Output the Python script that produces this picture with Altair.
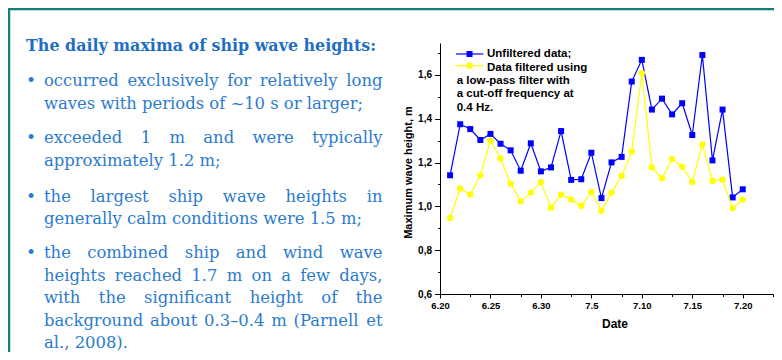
import json
import altair as alt
import pandas as pd

# ---------------- data ----------------
dates = ["6.21", "6.22", "6.23", "6.24", "6.25", "6.26", "6.27", "6.28", "6.29", "6.30",
         "7.1", "7.2", "7.3", "7.4", "7.5", "7.6", "7.7", "7.8", "7.9", "7.10",
         "7.11", "7.12", "7.13", "7.14", "7.15", "7.16", "7.17", "7.18", "7.19", "7.20"]
unfiltered = [1.142, 1.375, 1.353, 1.303, 1.331, 1.286, 1.256, 1.163, 1.288, 1.160,
              1.178, 1.344, 1.121, 1.124, 1.245, 1.038, 1.201, 1.226, 1.570, 1.669,
              1.442, 1.492, 1.420, 1.471, 1.326, 1.691, 1.210, 1.442, 1.041, 1.078]
filtered = [0.947, 1.082, 1.054, 1.142, 1.300, 1.219, 1.104, 1.023, 1.063, 1.111,
            0.994, 1.054, 1.032, 1.002, 1.066, 0.980, 1.063, 1.139, 1.251, 1.608,
            1.178, 1.128, 1.216, 1.181, 1.111, 1.283, 1.116, 1.122, 0.991, 1.031]
x_tick_labels = ["6.20", "6.25", "6.30", "7.5", "7.10", "7.15", "7.20"]
x_tick_values = [0, 3, 5, 8, 10, 13, 15, 18, 20, 23, 25, 28, 30, 33]
y_tick_values = [0.6, 0.7, 0.8, 0.9, 1.0, 1.1, 1.2, 1.3, 1.4, 1.5, 1.6, 1.7]
series_names = ["Unfiltered data;", "Data filtered using"]
legend_note = ["a low-pass filter with", "a cut-off frequency at", "0.4 Hz."]
x_title = "Date"
y_title = "Maximum wave height, m"

slide_title = "The daily maxima of ship wave heights:"
bullets = [
    ["occurred exclusively for relatively long",
     "waves with periods of ~10 s or larger;"],
    ["exceeded 1 m and were typically",
     "approximately 1.2 m;"],
    ["the largest ship wave heights in",
     "generally calm conditions were 1.5 m;"],
    ["the combined ship and wind wave",
     "heights reached 1.7 m on a few days,",
     "with the significant height of the",
     "background about 0.3\u20130.4 m (Parnell et",
     "al., 2008)."],
]

# ---------------- layout ----------------
W, H = 333, 251
X_MAX = 33
Y_DOM = [0.6, 1.746]
BLUE = "#0000ff"
YELLOW = "#ffff00"
TEAL = "#108078"
TITLE_BLUE = "#1f6ec4"
BODY_BLUE = "#2b7bd0"
SERIF = "DejaVu Serif"
SANS = "Liberation Sans"
BODY_SIZE = 16.4
LINE_H = 22.5
TEXT_LEFT = -396
TEXT_RIGHT = -57.5
para_first_y = [43, 100, 158.7, 215]

one = pd.DataFrame({"k": [0]})

# approximate DejaVu Serif advance widths (em)
CW = {" ": .318, "a": .596, "b": .640, "c": .560, "d": .640, "e": .592, "f": .371,
      "g": .640, "h": .644, "i": .320, "j": .310, "k": .606, "l": .320, "m": .948,
      "n": .644, "o": .602, "p": .640, "q": .640, "r": .478, "s": .513, "t": .402,
      "u": .644, "v": .565, "w": .856, "x": .565, "y": .565, "z": .527, ".": .318,
      ",": .318, ";": .337, "(": .390, ")": .390, "~": .838, "\u2013": .5, "P": .68}
for d in "0123456789":
    CW[d] = .636


def tw(s):
    return sum(CW.get(ch, 0.6) for ch in s) * BODY_SIZE


def txt(text, x, y, **kw):
    return alt.Chart(one).mark_text(text=text, **kw).encode(
        x=alt.value(x), y=alt.value(y))


layers = []

# slide frame
layers.append(alt.Chart(one).mark_rule(color=TEAL, strokeWidth=2.5).encode(
    x=alt.value(-432), x2=alt.value(W + 1), y=alt.value(-34)))
layers.append(alt.Chart(one).mark_rule(color=TEAL, strokeWidth=2.5).encode(
    x=alt.value(-431), y=alt.value(-35), y2=alt.value(H + 58)))

# slide title
layers.append(txt(slide_title, -414, 7.7, align="left", baseline="alphabetic",
                  font=SERIF, fontSize=15.9, fontWeight="bold", color=TITLE_BLUE))

# bullets
body_kw = dict(baseline="alphabetic", font=SERIF, fontSize=BODY_SIZE, color=BODY_BLUE)
for p, lines in enumerate(bullets):
    y0 = para_first_y[p]
    layers.append(txt("\u2022", -409, y0, align="center", baseline="alphabetic",
                      font=SERIF, fontSize=17, color=BODY_BLUE))
    for i, line in enumerate(lines):
        y = y0 + i * LINE_H
        words = line.split(" ")
        last = i == len(lines) - 1
        if last or len(words) < 2:
            layers.append(txt(line, TEXT_LEFT, y, align="left", **body_kw))
            continue
        natural = sum(tw(w) for w in words)
        gap = (TEXT_RIGHT - TEXT_LEFT - natural) / (len(words) - 1)
        x = TEXT_LEFT
        for j, w in enumerate(words):
            if j == len(words) - 1:
                layers.append(txt(w, TEXT_RIGHT, y, align="right", **body_kw))
            else:
                layers.append(txt(w, x, y, align="left", **body_kw))
            x += tw(w) + gap

# ---------------- chart ----------------
df = pd.DataFrame({
    "day": list(range(1, len(dates) + 1)),
    "date": dates,
    "unfiltered": unfiltered,
    "filtered": filtered,
})

x_axis = alt.Axis(
    values=x_tick_values,
    labelExpr=f"datum.value % 5 === 0 ? {json.dumps(x_tick_labels)}[datum.value / 5] : ''",
    tickSize={"condition": {"test": "datum.value % 5 === 0", "value": 4}, "value": 2.5},
    grid=False, domainColor="black", domainWidth=1, tickColor="black", tickWidth=1,
    labelFont=SANS, labelFontWeight="bold", labelFontSize=9.5, labelColor="black",
    labelPadding=2.5, labelFlush=False, labelOverlap=False,
    title=x_title, titleFont=SANS, titleFontWeight="bold", titleFontSize=12,
    titleColor="black", titleX=174.5, titleY=33.7, titleBaseline="alphabetic",
    titleAlign="center",
)
y_axis = alt.Axis(
    values=y_tick_values,
    labelExpr="round(datum.value * 10) % 2 === 0 ? replace(format(datum.value, '.1f'), '.', ',') : ''",
    tickSize={"condition": {"test": "round(datum.value * 10) % 2 === 0", "value": 5.5}, "value": 2.5},
    grid=False, domainColor="black", domainWidth=1, tickColor="black", tickWidth=1,
    labelFont=SANS, labelFontWeight="bold", labelFontSize=10, labelColor="black",
    labelPadding=3, labelFlush=False, labelOverlap=False,
    title=y_title, titleFont=SANS, titleFontWeight="bold", titleFontSize=11,
    titleColor="black", titleX=-28.5, titleY=129, titleBaseline="alphabetic",
    titleAlign="center", titleAngle=270,
)
xs = alt.Scale(domain=[0, X_MAX], nice=False, zero=False)
ys = alt.Scale(domain=Y_DOM, nice=False, zero=False)

base = alt.Chart(df)
X = alt.X("day:Q", scale=xs, axis=x_axis)
blue_line = base.mark_line(color=BLUE, strokeWidth=1.2).encode(
    x=X, y=alt.Y("unfiltered:Q", scale=ys, axis=y_axis))
blue_pts = base.mark_point(shape="square", filled=True, size=36, color=BLUE, opacity=1).encode(
    x=X, y=alt.Y("unfiltered:Q", scale=ys, axis=y_axis))
yel_line = base.mark_line(color=YELLOW, strokeWidth=1.2).encode(
    x=X, y=alt.Y("filtered:Q", scale=ys, axis=y_axis))
yel_pts = base.mark_circle(size=40, color=YELLOW, opacity=1).encode(
    x=X, y=alt.Y("filtered:Q", scale=ys, axis=y_axis))
layers += [blue_line, blue_pts, yel_line, yel_pts]

# legend (inside plot, top-left)
leg_kw = dict(align="left", baseline="alphabetic", font=SANS, fontWeight="bold",
              fontSize=11.5, color="black", lineHeight=13.4)
layers.append(alt.Chart(one).mark_rule(color=BLUE, strokeWidth=1.2).encode(
    x=alt.value(16), x2=alt.value(43.3), y=alt.value(11)))
layers.append(alt.Chart(one).mark_point(shape="square", filled=True, size=36, color=BLUE, opacity=1).encode(
    x=alt.value(29.5), y=alt.value(11)))
layers.append(alt.Chart(one).mark_rule(color=YELLOW, strokeWidth=1.2).encode(
    x=alt.value(16), x2=alt.value(43.3), y=alt.value(22.7)))
layers.append(alt.Chart(one).mark_circle(size=40, color=YELLOW, opacity=1).encode(
    x=alt.value(29.5), y=alt.value(22.7)))
layers.append(txt(series_names, 47, 14.3, **leg_kw))
layers.append(txt(legend_note, 16.7, 41, **leg_kw))

chart = alt.layer(*layers).properties(
    width=W, height=H,
    autosize=alt.AutoSizeParams(type="none"),
    padding={"left": 432, "top": 35, "right": 1, "bottom": 58},
    background="white",
).configure_view(stroke=None)

chart.save("out.html", embed_options={"renderer": "svg", "actions": False})
